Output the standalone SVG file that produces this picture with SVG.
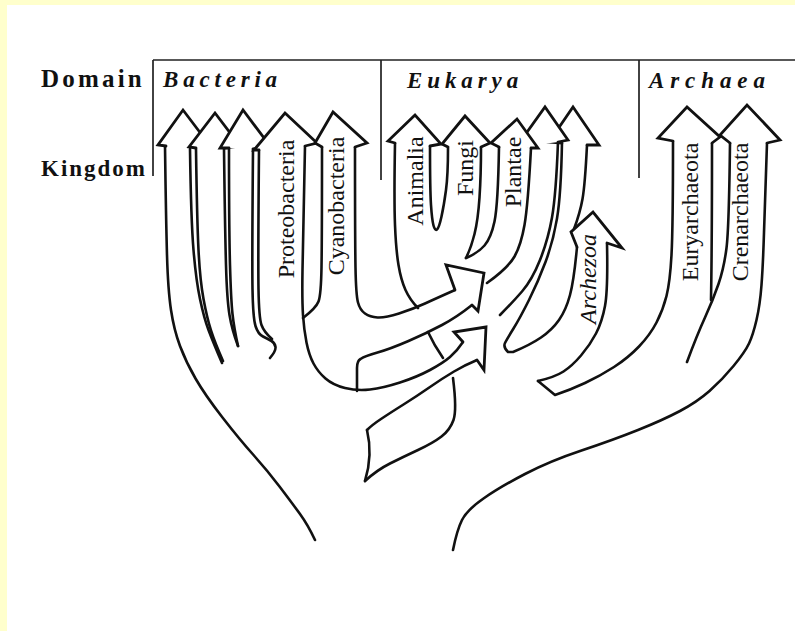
<svg xmlns="http://www.w3.org/2000/svg" width="795" height="631" viewBox="0 0 795 631">
<style>
.ln{fill:none;stroke:#111;stroke-width:2.6;stroke-linecap:round;stroke-linejoin:round}
.hd{fill:#fff;stroke:#111;stroke-width:2.8;stroke-linecap:round;stroke-linejoin:miter}
.fr{fill:none;stroke:#222;stroke-width:1.7}
.lbl{font-family:"Liberation Serif","Times New Roman",serif;font-size:24px;fill:#111}
.it{font-style:italic}
.ttl{font-family:"Liberation Serif","Times New Roman",serif;font-weight:bold;fill:#111}
.dom{font-style:italic;font-size:23px}
</style>
<rect width="795" height="631" fill="#FFFFCC"/>
<rect x="7" y="5" width="788" height="626" fill="#FFFFFF"/>

<g id="frame">
<path class="fr" d="M153,60 H795 M153,60 V176 M381,60 V180 M639,60 V178"/>
<text class="ttl" x="41" y="87" font-size="25" letter-spacing="3.2">Domain</text>
<text class="ttl" x="41" y="176" font-size="23" letter-spacing="2">Kingdom</text>
<text class="ttl dom" x="163" y="87" letter-spacing="4.8">Bacteria</text>
<text class="ttl dom" x="407" y="88" letter-spacing="4.9">Eukarya</text>
<text class="ttl dom" x="649" y="88" letter-spacing="5.9">Archaea</text>
</g>

<g id="bacteria">
<path class="ln" d="M165,146 Q166,220 167,255 Q168,290 171,310 Q174,330 180,346 Q186,362 195.5,378.5 Q205,395 222.5,417.5 Q240,440 253.5,455 Q267,470 279.5,486.5 Q292,503 300,514 Q308,525 315,540"/>
<path class="ln" d="M190,149 Q191,220 193.5,250 Q196,280 200,299 Q204,318 208.5,330 Q213,342 222,363"/>
<path class="ln" d="M196,149 Q197,220 198.5,250 Q200,280 203.5,299 Q207,318 211,330.5 Q215,343 223,361"/>
<path class="ln" d="M224,149 Q225,230 226,265 Q227,300 229.5,315 Q232,330 238,346"/>
<path class="ln" d="M229,149 Q229,230 230,265 Q231,300 232.5,314 Q234,328 238,346"/>
<path class="ln" d="M253,150 Q252,260 252.5,289 Q253,318 255.5,326 Q258,334 263,336.5 Q268,339 271.5,341 Q275,343 275.5,347 Q276,351 270,358"/>
<path class="ln" d="M259,150 Q258,260 258.5,289 Q259,318 261.5,325 Q264,332 272,339"/>
<path class="ln" d="M305,146 Q303,240 302.5,270 Q302,300 303,315 Q304,330 306.5,342.5 Q309,355 313.5,363.5 Q318,372 325.5,378.5 Q333,385 345,388 Q357,391 370,389.5 Q383,388 400,382.5 Q417,377 430,370 Q443,363 450,357 Q457,351 463,342"/>
<path class="ln" d="M322,147 Q322,240 321.5,267.5 Q321,295 318.5,301.5 Q316,308 303,318"/>
<path class="ln" d="M355,147 Q355,240 355.5,267.5 Q356,295 358,302.5 Q360,310 365,313.5 Q370,317 377.5,317.5 Q385,318 399,313.5 Q413,309 425,303.5 Q437,298 455,290"/>
<path class="hd" d="M166,146 L158,145 L183,110 L208,143 L190,147"/>
<path class="hd" d="M196,148 L189,147 L215,113 L240,146 L224,148"/>
<path class="hd" d="M229,148 L220,148 L243,110 L270,146 L253,149"/>
<path class="hd" d="M259,150 L254,150 L285,113 L317,143 L305,146"/>
<path class="hd" d="M322,147 L315,143 L333,112 L367,143 L355,147"/>
<text class="lbl" transform="translate(294,209) rotate(-90)" text-anchor="middle">Proteobacteria</text>
<text class="lbl" transform="translate(344,206) rotate(-90)" text-anchor="middle">Cyanobacteria</text>
</g>

<g id="eukarya">
<path class="ln" d="M395,143 Q394,200 395,225 Q396,250 398.5,265 Q401,280 405.5,290 Q410,300 418,308"/>
<path class="ln" d="M430,146 Q430,190 431,205 Q432,220 433.5,225.5 Q435,231 437,229.5 Q439,228 441.5,216.5 Q444,205 446,190 Q448,175 448,148"/>
<path class="ln" d="M481,147 Q481,175 479.5,197.5 Q478,220 474.5,234 Q471,248 466,258"/>
<path class="ln" d="M499,147 Q498,205 494.5,221.5 Q491,238 484.5,245.5 Q478,253 466,258"/>
<path class="ln" d="M531,148 Q528,205 524.5,225 Q521,245 514.5,256.5 Q508,268 487,283"/>
<path class="ln" d="M558,142 Q556,195 552,217.5 Q548,240 540,260 Q532,280 522,291.5 Q512,303 500,315"/>
<path class="ln" d="M562,142 Q561,195 557,218.5 Q553,242 545.5,262 Q538,282 529,300 Q520,318 513.5,328.5 Q507,339 505,343 Q503,347 508,352 L513,352 Q530,345 541,337.5 Q552,330 559,320 Q566,310 570,295 Q574,280 577,247"/>
<path class="ln" d="M587,145 Q585,185 582.5,199 Q580,213 574,229"/>
<path class="ln" d="M607,243 Q608,290 605,306 Q602,322 596,333.5 Q590,345 581,355.5 Q572,366 563.5,371.5 Q555,377 538,381"/>
<path class="ln" d="M428,332 Q434,345 443,358"/>
<path class="ln" d="M367,430 Q373,455 365,481"/>
<path class="ln" d="M453,378 Q457,410 453.5,420 Q450,430 441.5,436.5 Q433,443 418,450 Q403,457 390,463.5 Q377,470 365,481"/>
<path class="hd" d="M562,143 L549,142 L573,107 L599,145 L587,145"/>
<path class="hd" d="M528,146 L520,142 L545,107 L568,140 L558,142"/>
<path class="hd" d="M448,147 L442,144 L465,116 L490,143 L481,147"/>
<path class="hd" d="M499,147 L491,143 L517,119 L538,148 L531,148"/>
<path class="hd" d="M395,143 L388,141 L415,115 L441,144 L430,146"/>
<path class="hd" d="M577,247 L571,232 L593,212 L622,248 L607,243"/>
<text class="lbl" transform="translate(423,181) rotate(-90)" text-anchor="middle">Animalia</text>
<text class="lbl" transform="translate(473,168) rotate(-90)" text-anchor="middle">Fungi</text>
<text class="lbl" transform="translate(521,172) rotate(-90)" text-anchor="middle">Plantae</text>
<text class="lbl it" transform="translate(596,279) rotate(-90)" text-anchor="middle">Archezoa</text>
</g>

<g id="archaea">
<path class="ln" d="M538,381 L555,395 Q570,390 585,383 Q600,376 614,367 Q628,358 639,346.5 Q650,335 656.5,322.5 Q663,310 666.5,296 Q670,282 671.5,255 Q673,228 673,141"/>
<path class="ln" d="M712,143 Q712,245 711,300"/>
<path class="ln" d="M730,143 Q729,228 726.5,248 Q724,268 718.5,284 Q713,300 705,317.5 Q697,335 687,362"/>
<path class="ln" d="M767,143 Q765,200 764,232.5 Q763,265 761.5,285 Q760,305 756.5,320 Q753,335 749,343.5 Q745,352 733.5,366 Q722,380 709.5,391 Q697,402 680,411 Q663,420 638,430 Q613,440 581.5,450.5 Q550,461 525,474 Q500,487 483.5,498.5 Q467,510 462,520 Q457,530 453,550" stroke-width="3"/>
<path class="hd" d="M673,141 L658,138 L687,107 L720,137 L712,143"/>
<path class="hd" d="M730,143 L720,135 L747,105 L780,140 L767,143"/>
<text class="lbl" transform="translate(698,212) rotate(-90)" text-anchor="middle">Euryarchaeota</text>
<text class="lbl" transform="translate(748,212) rotate(-90)" text-anchor="middle">Crenarchaeota</text>
</g>

<g id="connectors">
<path class="ln" d="M472,305 Q457,317 442,325 Q427,333 408.5,341 Q390,349 377.5,352.5 Q365,356 360.5,359 Q357,361 357,368 L357,391"/>
<path class="ln" d="M477,360 Q465,365 454,371.5 Q443,378 430,387 Q417,396 403.5,404.5 Q390,413 381,419 Q372,425 367,430"/>
<path class="hd" d="M455,290 L446,265 L484,273 L478,311 L472,305"/>
<path class="hd" d="M463,342 L454,332 L486,327 L484,370 L477,360"/>
</g>
</svg>
